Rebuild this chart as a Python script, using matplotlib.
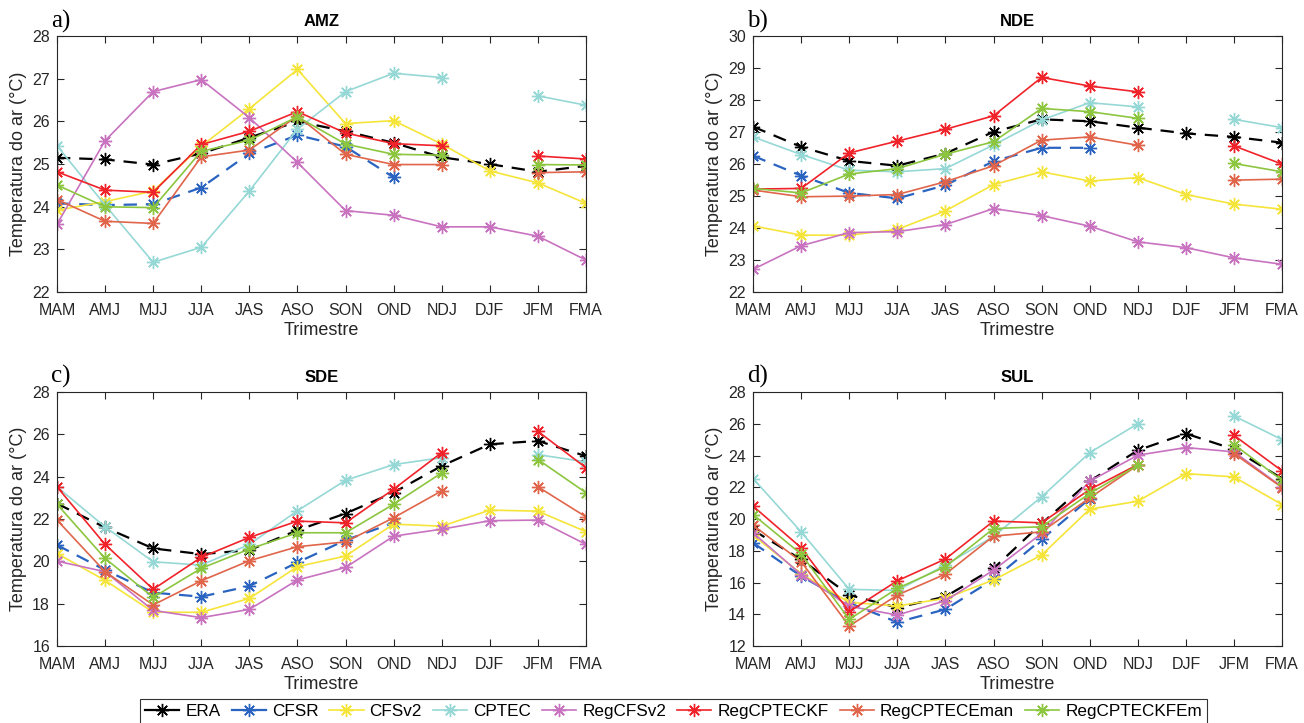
import matplotlib.pyplot as plt
import numpy as np

nan = np.nan
months = ['MAM', 'AMJ', 'MJJ', 'JJA', 'JAS', 'ASO', 'SON', 'OND', 'NDJ', 'DJF', 'JFM', 'FMA']
names = ['ERA', 'CFSR', 'CFSv2', 'CPTEC', 'RegCFSv2', 'RegCPTECKF', 'RegCPTECEman', 'RegCPTECKFEm']
colors = ['#000000', '#2a64c0', '#f5e53a', '#96d8d6', '#c872c0', '#f0222a', '#e0654a', '#8cc63f']

# AMZ
amz_era  = [25.15, 25.11, 24.99, 25.25, 25.62, 26.0, 25.77, 25.5, 25.16, 25.0, 24.82, 24.96]
amz_cfsr = [24.08, 24.04, 24.06, 24.45, 25.25, 25.68, 25.41, 24.69, nan, nan, nan, nan]
amz_cfsv2 = [23.92, 24.12, 24.37, 25.42, 26.3, 27.22, 25.95, 26.02, 25.47, 24.84, 24.56, 24.08]
amz_cptec = [25.43, 24.04, 22.7, 23.05, 24.37, 25.82, 26.7, 27.13, 27.03, nan, 26.6, 26.38]
amz_regcfs = [23.59, 25.55, 26.7, 26.98, 26.09, 25.04, 23.91, 23.8, 23.53, 23.53, 23.31, 22.75]
amz_kf = [24.82, 24.39, 24.34, 25.46, 25.77, 26.23, 25.73, 25.48, 25.43, nan, 25.19, 25.12]
amz_eman = [24.17, 23.66, 23.61, 25.17, 25.33, 26.13, 25.23, 24.99, 24.99, nan, 24.8, 24.82]
amz_kfem = [24.51, 24.0, 23.98, 25.3, 25.56, 26.11, 25.47, 25.23, 25.21, nan, 24.99, 24.98]

# NDE
nde_era  = [27.17, 26.54, 26.1, 25.95, 26.33, 27.01, 27.4, 27.34, 27.14, 26.96, 26.85, 26.67]
nde_cfsr = [26.26, 25.64, 25.1, 24.93, 25.34, 26.09, 26.51, 26.51, nan, nan, nan, nan]
nde_cfsv2 = [24.07, 23.78, 23.78, 23.96, 24.54, 25.36, 25.76, 25.47, 25.58, 25.05, 24.75, 24.59]
nde_cptec = [26.85, 26.3, 25.81, 25.76, 25.86, 26.6, 27.38, 27.92, 27.79, nan, 27.4, 27.14]
nde_regcfs = [22.71, 23.45, 23.86, 23.89, 24.11, 24.61, 24.39, 24.06, 23.57, 23.39, 23.07, 22.87]
nde_kf = [25.22, 25.24, 26.35, 26.72, 27.09, 27.51, 28.71, 28.44, 28.26, nan, 26.57, 26.0]
nde_eman = [25.19, 24.98, 25.0, 25.05, 25.45, 25.95, 26.75, 26.85, 26.59, nan, 25.5, 25.53]
nde_kfem = [25.24, 25.1, 25.69, 25.86, 26.31, 26.7, 27.74, 27.64, 27.43, nan, 26.02, 25.76]

# SDE
sde_era  = [22.73, 21.6, 20.61, 20.34, 20.53, 21.47, 22.26, 23.25, 24.51, 25.53, 25.69, 24.97]
sde_cfsr = [20.77, 19.59, 18.52, 18.33, 18.83, 19.95, 21.0, 21.82, nan, nan, nan, nan]
sde_cfsv2 = [20.37, 19.1, 17.6, 17.59, 18.25, 19.75, 20.25, 21.76, 21.66, 22.42, 22.37, 21.4]
sde_cptec = [23.52, 21.63, 19.98, 19.82, 20.8, 22.39, 23.83, 24.57, 24.9, nan, 25.04, 24.7]
sde_regcfs = [20.01, 19.51, 17.68, 17.34, 17.73, 19.12, 19.71, 21.19, 21.52, 21.92, 21.95, 20.8]
sde_kf = [23.52, 20.8, 18.68, 20.19, 21.13, 21.9, 21.82, 23.41, 25.14, nan, 26.14, 24.42]
sde_eman = [21.95, 19.51, 17.94, 19.08, 20.03, 20.69, 20.92, 22.06, 23.33, nan, 23.52, 22.1]
sde_kfem = [22.7, 20.14, 18.3, 19.67, 20.58, 21.35, 21.35, 22.7, 24.18, nan, 24.81, 23.24]

# SUL
sul_era  = [19.3, 17.45, 15.21, 14.42, 15.11, 16.89, 19.72, 22.38, 24.33, 25.38, 24.39, 22.55]
sul_cfsr = [18.5, 16.4, 14.7, 13.5, 14.31, 16.2, 18.71, 21.29, nan, nan, nan, nan]
sul_cfsv2 = [18.98, 16.55, 14.75, 14.52, 15.0, 16.16, 17.73, 20.62, 21.12, 22.86, 22.65, 20.91]
sul_cptec = [22.55, 19.19, 15.57, 15.5, 17.1, 18.9, 21.4, 24.18, 26.0, nan, 26.49, 25.0]
sul_regcfs = [19.13, 16.5, 14.5, 13.95, 14.85, 16.78, 19.09, 22.38, 24.02, 24.5, 24.23, 22.02]
sul_kf = [20.81, 18.19, 14.16, 16.11, 17.48, 19.87, 19.76, 21.86, 23.43, nan, 25.27, 23.03]
sul_eman = [19.61, 17.31, 13.26, 15.21, 16.53, 18.92, 19.19, 21.33, 23.39, nan, 24.12, 21.98]
sul_kfem = [20.28, 17.79, 13.68, 15.63, 16.99, 19.4, 19.51, 21.61, 23.39, nan, 24.69, 22.44]

panels = [
    ('a)', 'AMZ', [amz_era, amz_cfsr, amz_cfsv2, amz_cptec, amz_regcfs, amz_kf, amz_eman, amz_kfem], (22, 28), np.arange(22, 29, 1)),
    ('b)', 'NDE', [nde_era, nde_cfsr, nde_cfsv2, nde_cptec, nde_regcfs, nde_kf, nde_eman, nde_kfem], (22, 30), np.arange(22, 31, 1)),
    ('c)', 'SDE', [sde_era, sde_cfsr, sde_cfsv2, sde_cptec, sde_regcfs, sde_kf, sde_eman, sde_kfem], (16, 28), np.arange(16, 29, 2)),
    ('d)', 'SUL', [sul_era, sul_cfsr, sul_cfsv2, sul_cptec, sul_regcfs, sul_kf, sul_eman, sul_kfem], (12, 28), np.arange(12, 29, 2)),
]

plt.rcParams['font.family'] = ['Liberation Sans', 'DejaVu Sans']
fig = plt.figure(figsize=(13.04, 7.23), dpi=100)

# axes boxes in figure fractions
boxes = [
    [0.0437, 0.596, 0.4057, 0.354],
    [0.5775, 0.596, 0.4057, 0.354],
    [0.0437, 0.1065, 0.4057, 0.3513],
    [0.5775, 0.1065, 0.4057, 0.3513],
]

star = (8, 2, 0)
x = np.arange(len(months))
handles = []
for (letter, title, series, ylim, yticks), box in zip(panels, boxes):
    ax = fig.add_axes(box)
    lines = []
    for i, (vals, col) in enumerate(zip(series, colors)):
        ls = '--' if i < 2 else '-'
        lw = 1.6 if i < 2 else 1.2
        ln, = ax.plot(x, vals, ls, color=col, lw=lw, marker=star, ms=9.5, mew=1.0,
                      dashes=(6, 4) if i < 2 else (None, None), label=names[i])
        lines.append(ln)
    handles = lines
    ax.set_xlim(0, 11)
    ax.set_ylim(*ylim)
    ax.set_xticks(x)
    ax.set_xticklabels(months)
    ax.set_yticks(yticks)
    ax.tick_params(direction='in', top=True, right=True, length=5, labelsize=11.5,
                   colors='#262626')
    ax.tick_params(axis='x', pad=8)
    ax.tick_params(axis='y', pad=5)
    for s in ax.spines.values():
        s.set_color('#262626')
        s.set_linewidth(0.8)
    ax.set_title(title, fontsize=12, fontweight='bold', pad=7)
    ax.set_xlabel('Trimestre', fontsize=13, color='#262626', labelpad=3)
    ax.set_ylabel('Temperatura do ar (°C)', fontsize=13, color='#262626', labelpad=4)
    ax.text(0.008, 1.014, letter, transform=ax.transAxes, fontsize=18,
            family='Liberation Serif', ha='center', va='bottom')

leg = fig.legend(handles, names, loc='lower center', bbox_to_anchor=(0.5165, -0.014),
                 ncol=8, fontsize=12.3, frameon=True, fancybox=False, edgecolor='black',
                 handlelength=2.0, handletextpad=0.35, columnspacing=0.65, borderpad=0.3)
leg.get_frame().set_linewidth(0.8)
for h in leg.get_lines():
    h.set_linestyle('-')

fig.savefig('out.png', dpi=100)
